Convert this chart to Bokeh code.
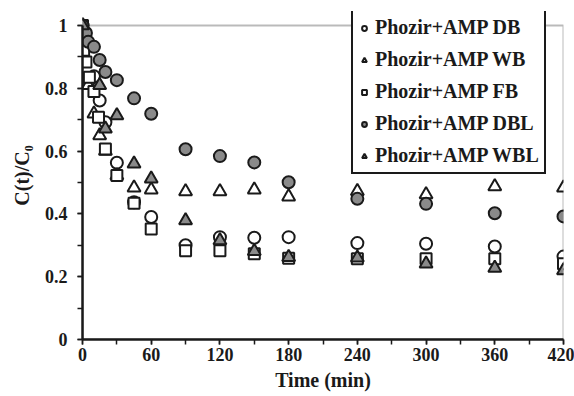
from bokeh.plotting import figure
from bokeh.models import Range1d, FixedTicker, Legend, LegendItem, BoxAnnotation
from bokeh.embed import file_html
from bokeh.resources import INLINE

# Relative concentration C(t)/C0 versus time for the five Phozir+AMP systems
t_db = [0, 2, 6, 10, 15, 20, 30, 45, 60, 90, 120, 150, 180, 240, 300, 360, 420]
c_db = [1.0, 0.94, 0.826, 0.838, 0.761, 0.692, 0.563, 0.437, 0.39,
        0.30, 0.326, 0.324, 0.326, 0.307, 0.305, 0.296, 0.264]

t_wb = [0, 5, 10, 15, 20, 30, 45, 60, 90, 120, 150, 180, 240, 300, 360, 420]
c_wb = [1.0, 0.81, 0.719, 0.65, 0.60, 0.522, 0.483, 0.477,
        0.471, 0.471, 0.477, 0.455, 0.472, 0.462, 0.487, 0.483]

t_fb = [0, 1, 3, 6, 10, 14, 20, 30, 45, 60, 90, 120, 150, 180, 240, 300, 360, 420]
c_fb = [1.0, 0.921, 0.884, 0.835, 0.79, 0.708, 0.607, 0.522, 0.434, 0.352,
        0.283, 0.283, 0.273, 0.259, 0.257, 0.257, 0.257, 0.241]

t_dbl = [0, 3, 5, 10, 15, 20, 30, 45, 60, 90, 120, 150, 180, 240, 300, 360, 420]
c_dbl = [1.0, 0.976, 0.948, 0.932, 0.89, 0.852, 0.826, 0.768, 0.719,
         0.606, 0.584, 0.564, 0.501, 0.448, 0.432, 0.402, 0.392]

t_wbl = [0, 15, 20, 30, 45, 60, 90, 120, 150, 180, 240, 300, 360, 420]
c_wbl = [1.0, 0.81, 0.671, 0.713, 0.56, 0.512, 0.379, 0.315, 0.281,
         0.262, 0.26, 0.241, 0.228, 0.22]

x_ticks = [0, 60, 120, 180, 240, 300, 360, 420]
y_ticks = [0, 0.2, 0.4, 0.6, 0.8, 1.0]
y_tick_labels = ["0", "0.2", "0.4", "0.6", "0.8", "1"]

series_labels = ["Phozir+AMP DB", "Phozir+AMP WB", "Phozir+AMP FB",
                 "Phozir+AMP DBL", "Phozir+AMP WBL"]

FONT = "Liberation Serif"
INK = "#1a1a1a"
GRAY = "#8a8a8a"

# the frame reaches a little above C/C0 = 1 so the legend box can rise over
# the top border line
HEADROOM = 14
FRAME_H = 314

p = figure(width=574, height=396, output_backend="svg", toolbar_location=None,
           x_range=Range1d(0, 420),
           y_range=Range1d(0, 1 + HEADROOM / FRAME_H),
           min_border_left=82, min_border_right=11,
           min_border_top=25 - HEADROOM, min_border_bottom=57)
p.frame_width = 481
p.frame_height = FRAME_H + HEADROOM
p.grid.visible = False
p.background_fill_color = "white"
p.border_fill_color = "white"
p.outline_line_color = None

# plot box drawn over the data extent (0..420 min, 0..1)
p.add_layout(BoxAnnotation(left=0, right=420, bottom=0, top=1,
                           fill_alpha=0, line_color=INK, line_width=2,
                           level="underlay"))

for ax in (p.xaxis[0], p.yaxis[0]):
    ax.axis_line_color = INK
    ax.axis_line_width = 2.5
    ax.major_tick_line_color = INK
    ax.minor_tick_line_color = INK
    ax.major_tick_line_width = 1.5
    ax.minor_tick_line_width = 1.5
    ax.major_tick_out = 5
    ax.major_tick_in = 0
    ax.minor_tick_out = 5
    ax.minor_tick_in = 0
    ax.major_label_text_font = FONT
    ax.major_label_text_font_style = "bold"
    ax.major_label_text_font_size = "18px"
    ax.major_label_text_color = INK
    ax.axis_label_text_font = FONT
    ax.axis_label_text_font_style = "bold"
    ax.axis_label_text_font_size = "20px"
    ax.axis_label_text_color = INK

p.yaxis.bounds = (0, 1)
p.xaxis.ticker = FixedTicker(ticks=x_ticks, minor_ticks=list(range(0, 421, 30)))
p.yaxis.ticker = FixedTicker(ticks=y_ticks,
                             minor_ticks=[round(0.1 * i, 1) for i in range(11)])
p.yaxis.major_label_overrides = {v: s for v, s in zip(y_ticks, y_tick_labels)}
p.xaxis.axis_label = "Time (min)"
p.yaxis.axis_label = "C(t)/C\u2080"
p.xaxis.major_label_standoff = 3
p.yaxis.major_label_standoff = 10
p.xaxis.axis_label_standoff = 5
p.yaxis.axis_label_standoff = 9

r_db = p.scatter(t_db, c_db, marker="circle", size=12, fill_color="white",
                 line_color=INK, line_width=2)
r_wb = p.scatter(t_wb, c_wb, marker="triangle", size=13, fill_color="white",
                 line_color=INK, line_width=2)
r_fb = p.scatter(t_fb, c_fb, marker="square", size=11, fill_color="white",
                 line_color=INK, line_width=2)
r_dbl = p.scatter(t_dbl, c_dbl, marker="circle", size=12, fill_color=GRAY,
                  line_color=INK, line_width=2)
r_wbl = p.scatter(t_wbl, c_wbl, marker="triangle", size=13, fill_color=GRAY,
                  line_color=INK, line_width=2)

legend = Legend(items=[LegendItem(label=lab, renderers=[r])
                       for lab, r in zip(series_labels,
                                         [r_db, r_wb, r_fb, r_dbl, r_wbl])],
                location=(269, 165))
legend.label_text_font = FONT
legend.label_text_font_style = "bold"
legend.label_text_font_size = "20px"
legend.label_text_color = INK
legend.label_height = 21
legend.glyph_height = 12
legend.glyph_width = 12
legend.label_standoff = 5
legend.spacing = 9
legend.padding = 5
legend.margin = 0
legend.border_line_color = INK
legend.border_line_width = 2
legend.border_line_alpha = 1
legend.background_fill_color = "white"
legend.background_fill_alpha = 1
p.add_layout(legend, "center")

open("out.html", "w").write(file_html(p, INLINE))
